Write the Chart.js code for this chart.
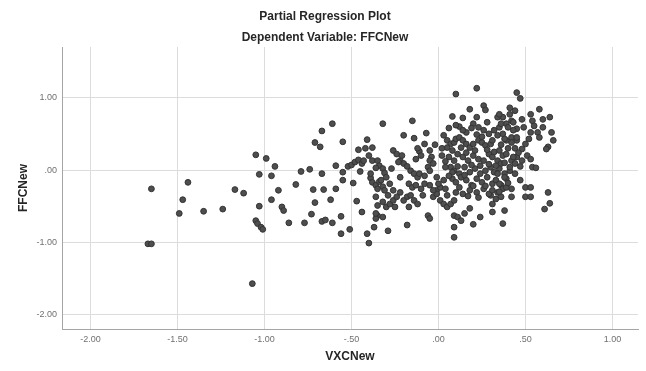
<!DOCTYPE html>
<html><head><meta charset="utf-8">
<script src="https://cdn.jsdelivr.net/npm/chart.js@4.4.1/dist/chart.umd.min.js"></script>
<style>html,body{margin:0;padding:0;background:#fff;} #wrap{width:646px;height:371px;}</style>
</head><body><div id="wrap"><canvas id="c" width="646" height="371"></canvas></div>
<script>
const chartTitle = "Partial Regression Plot";
const chartSubtitle = "Dependent Variable: FFCNew";
const xAxisTitle = "VXCNew";
const yAxisTitle = "FFCNew";
const xTickValues = [-2, -1.5, -1, -0.5, 0, 0.5, 1];
const xTickLabels = ["-2.00", "-1.50", "-1.00", "-.50", ".00", ".50", "1.00"];
const yTickValues = [1, 0, -1, -2];
const yTickLabels = ["1.00", ".00", "-1.00", "-2.00"];

const xValues = [
-1.65,-1.67,-1.65,-1.44,-1.47,-1.49,-1.35,-1.24,-1.17,-1.12,
-1.05,-0.99,-0.94,-1.03,-0.96,-0.92,-1.03,-0.96,-0.90,-0.89,
-1.05,-1.04,-1.02,-1.01,-1.07,-0.86,-0.82,-0.79,-0.74,-0.77,
-0.73,-0.71,-0.72,-0.67,-0.71,-0.68,-0.67,-0.61,-0.55,-0.59,
-0.66,-0.59,-0.62,-0.67,-0.65,-0.61,-0.56,-0.56,-0.51,-0.55,
-0.52,-0.50,-0.48,-0.46,-0.55,-0.49,-0.47,-0.46,-0.44,-0.41,
-0.42,-0.40,-0.44,-0.45,-0.39,-0.38,-0.36,-0.35,-0.35,-0.36,
-0.41,-0.40,-0.37,-0.29,-0.32,-0.38,-0.38,-0.43,-0.35,-0.34,
-0.32,-0.31,-0.36,-0.39,-0.34,-0.32,-0.31,-0.29,-0.36,-0.35,
-0.32,-0.30,-0.28,-0.26,-0.24,-0.22,-0.26,-0.24,-0.22,-0.21,
-0.20,-0.20,-0.15,-0.14,-0.07,-0.11,-0.10,-0.05,-0.04,-0.16,
-0.14,-0.12,-0.11,-0.08,-0.06,-0.05,-0.17,-0.15,-0.13,-0.10,
-0.08,-0.05,-0.01,0.01,0.04,-0.18,-0.16,-0.20,-0.17,-0.14,
-0.12,-0.18,-0.06,-0.05,-0.03,-0.01,0.01,0.03,0.05,0.07,
0.09,0.09,0.09,0.11,0.13,0.15,0.18,0.20,0.24,0.30,
0.31,0.10,0.22,0.08,0.14,0.18,0.26,0.22,0.28,0.27,
0.20,0.23,0.03,0.05,0.07,0.09,0.10,0.12,0.14,0.16,
0.18,0.20,0.23,0.25,0.27,0.30,0.31,
0.06,0.09,0.11,0.14,0.17,0.20,0.23,0.26,0.29,0.31,0.34,0.37,
0.07,0.09,0.12,0.15,0.18,0.21,0.24,0.27,0.30,0.32,0.35,0.38,
0.08,0.10,0.13,0.16,0.19,0.22,0.25,0.28,0.31,0.33,0.36,0.39,
0.10,0.14,0.18,0.22,0.26,0.29,0.31,0.34,0.37,
0.37,0.38,0.31,0.33,0.36,0.42,0.42,0.50,0.53,0.50,0.53,0.39,0.35,
0.42,0.44,0.41,0.45,0.48,0.51,0.53,0.54,0.56,0.48,0.50,0.52,0.45,0.42,0.39,0.37,0.35,0.39,0.42,0.41,0.44,0.34,0.37,0.45,0.47,0.53,0.54,0.58,0.60,0.64,0.65,0.66,0.63,0.62,0.57,0.58,0.53,0.55,0.49,0.45,0.48,0.60,0.63,0.64,0.61,
-0.30,-0.28,-0.26,-0.33,-0.25,-0.36,-0.32,-0.23,-0.13,-0.03,-0.05,-0.01,0.00,-0.03,
0.05,0.02,0.04,0.08,0.03,0.05,0.09,
0.35,0.41,0.36,0.40,0.43,0.34,0.38,0.42,0.45,0.35,0.39,0.43,0.46,0.36,0.41,0.44,0.34,0.38,0.47,
0.19,0.26,0.29,0.16,0.12,0.22,
0.02,0.04,0.06,0.08,0.11,0.12,0.13,0.15,0.16,0.17,
0.19,0.20,0.21,0.23,0.24,0.25,0.27,0.28,0.29,0.32,
0.33,0.32,0.35,0.36,0.38,0.40,0.40,0.43,0.44,0.47,
0.14,0.10,0.06,-0.02,-0.08,-0.12,-0.18,-0.22,-0.27,-0.09
];
const yValues = [
-0.26,-1.02,-1.02,-0.17,-0.41,-0.60,-0.57,-0.54,-0.27,-0.32,
0.21,0.16,0.05,-0.06,-0.08,-0.28,-0.50,-0.41,-0.51,-0.56,
-0.70,-0.74,-0.79,-0.82,-1.57,-0.73,-0.20,-0.02,0.01,-0.73,
-0.61,-0.45,-0.27,-0.05,0.38,0.32,0.54,0.64,0.39,0.06,
-0.27,-0.26,-0.41,-0.71,-0.69,-0.73,-0.64,-0.88,-0.82,-0.03,
0.05,0.07,0.11,0.14,-0.14,-0.18,-0.43,0.28,-0.58,0.42,
0.30,0.20,0.09,-0.02,-0.11,-0.17,-0.21,-0.26,-0.63,-0.67,
-0.88,-1.01,-0.79,-0.84,0.64,0.31,0.13,0.13,0.13,0.06,
0.02,-0.04,0.03,-0.05,-0.16,-0.23,-0.28,-0.35,-0.37,-0.49,
-0.44,-0.51,-0.47,-0.42,-0.37,-0.31,0.27,0.22,0.13,0.20,
0.09,0.48,0.68,0.44,0.51,0.26,0.20,0.27,0.18,-0.01,
-0.05,-0.10,-0.05,-0.08,0.04,0.13,-0.19,-0.24,-0.21,-0.26,
-0.19,-0.21,-0.28,-0.24,-0.26,-0.37,-0.35,-0.42,-0.51,-0.42,
-0.47,-0.76,-0.63,-0.67,-0.37,-0.33,-0.42,-0.47,-0.51,-0.47,
-0.79,-0.93,-0.63,-0.65,-0.70,-0.60,-0.53,-0.75,-0.65,-0.35,
-0.47,1.05,1.13,0.74,0.72,0.84,0.89,0.73,0.66,0.83,
0.64,0.59,0.48,0.41,0.36,0.38,0.43,0.45,0.41,0.36,
0.31,0.36,0.41,0.38,0.34,0.36,0.41,
0.18,0.13,0.22,0.18,0.13,0.20,0.15,0.13,0.22,0.18,0.13,0.20,
0.04,-0.01,-0.05,0.04,-0.03,0.02,-0.05,-0.01,0.04,-0.03,0.02,-0.05,
-0.12,-0.17,-0.10,-0.14,-0.21,-0.12,-0.17,-0.10,-0.19,-0.14,-0.21,-0.12,
-0.31,-0.33,-0.28,-0.31,-0.26,-0.33,-0.28,-0.31,-0.26,
-0.74,-0.56,-0.58,-0.40,-0.37,-0.26,-0.37,-0.24,-0.24,-0.37,-0.37,-0.24,-0.19,
0.13,0.09,-0.01,0.18,0.13,0.20,0.15,0.04,0.03,0.29,0.36,0.43,0.41,0.45,0.41,0.50,0.59,0.64,0.68,0.77,0.82,0.73,0.73,1.07,0.99,0.77,0.68,0.84,0.70,0.73,0.52,0.41,0.32,0.29,0.52,0.45,0.52,0.61,0.59,0.57,0.70,0.59,-0.31,-0.46,-0.54,
-0.10,-0.19,-0.28,-0.14,-0.51,-0.60,-0.65,0.11,0.15,0.09,-0.01,-0.10,-0.19,-0.28,
0.31,0.20,0.04,-0.03,-0.14,-0.35,-0.42,
0.77,0.86,0.64,0.59,0.66,0.48,0.43,0.38,0.45,0.27,0.22,0.18,0.24,0.09,0.04,-0.05,-0.05,-0.10,-0.14,
0.58,0.55,0.50,0.52,0.60,0.49,
0.30,0.12,-0.08,0.27,0.05,-0.24,0.31,-0.07,0.24,-0.36,
0.07,-0.22,0.27,-0.38,0.06,0.46,-0.22,0.28,0.08,0.25,
0.06,0.55,-0.30,0.35,0.10,0.30,-0.18,0.55,0.30,0.05,
0.55,0.62,0.58,0.35,0.36,0.30,0.05,-0.10,0.02,-0.35
];

const points = xValues.map((x, i) => ({ x: x, y: yValues[i] }));

function labelFor(values, labels, v) {
  const i = values.findIndex(t => Math.abs(t - v) < 1e-9);
  return i >= 0 ? labels[i] : '';
}

const titlePlugin = {
  id: 'spssTitles',
  afterDraw(chart) {
    const ctx = chart.ctx;
    ctx.save();
    ctx.fillStyle = '#262626';
    ctx.textAlign = 'center';
    ctx.textBaseline = 'middle';
    ctx.font = 'bold 12px "Liberation Sans", Arial, sans-serif';
    ctx.fillText(chartTitle, 325, 17);
    ctx.fillText(chartSubtitle, 325, 38);
    ctx.restore();
  }
};

new Chart(document.getElementById('c'), {
  type: 'scatter',
  data: {
    datasets: [{
      data: points,
      pointRadius: 2.9,
      pointHoverRadius: 2.9,
      backgroundColor: '#4e4e4e',
      borderColor: '#333333',
      borderWidth: 1
    }]
  },
  options: {
    responsive: false,
    animation: false,
    devicePixelRatio: 1,
    layout: { padding: { left: 16, right: 8, top: 47, bottom: 7 } },
    plugins: { legend: { display: false }, tooltip: { enabled: false }, title: { display: false } },
    scales: {
      x: {
        type: 'linear',
        min: -2.164,
        max: 1.147,
        afterBuildTicks: s => { s.ticks = xTickValues.map(v => ({ value: v })); },
        afterFit: s => { s.height = 35; },
        ticks: {
          callback: v => labelFor(xTickValues, xTickLabels, v),
          font: { family: '"Liberation Sans", Arial, sans-serif', size: 9 },
          color: '#707070',
          padding: 5,
          maxRotation: 0,
          autoSkip: false
        },
        grid: { color: '#dcdcdc', lineWidth: 1, drawTicks: false },
        border: { display: true, color: '#a5a5a5', width: 1 },
        title: {
          display: true, text: xAxisTitle, padding: 0, color: '#262626',
          font: { family: '"Liberation Sans", Arial, sans-serif', size: 12, weight: 'bold' }
        }
      },
      y: {
        type: 'linear',
        min: -2.197,
        max: 1.70,
        afterBuildTicks: s => { s.ticks = yTickValues.map(v => ({ value: v })); },
        afterFit: s => { s.width = 46; },
        ticks: {
          callback: v => labelFor(yTickValues, yTickLabels, v),
          font: { family: '"Liberation Sans", Arial, sans-serif', size: 9 },
          color: '#707070',
          padding: 5,
          autoSkip: false
        },
        grid: { color: '#dcdcdc', lineWidth: 1, drawTicks: false },
        border: { display: true, color: '#a5a5a5', width: 1 },
        title: {
          display: true, text: yAxisTitle, padding: 0, color: '#262626',
          font: { family: '"Liberation Sans", Arial, sans-serif', size: 12, weight: 'bold' }
        }
      }
    }
  },
  plugins: [titlePlugin]
});
</script>
</body></html>
